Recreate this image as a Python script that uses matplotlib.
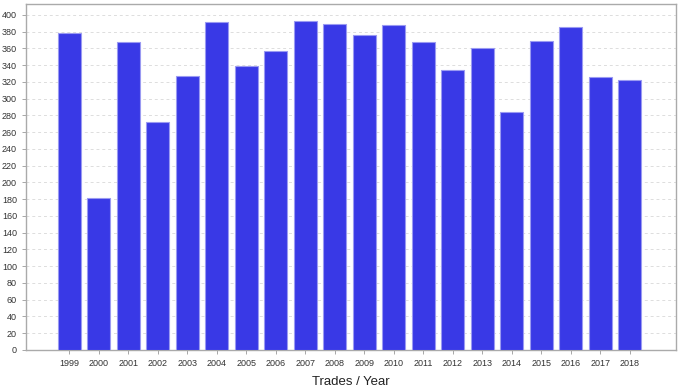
import matplotlib
matplotlib.use("Agg")
import matplotlib.pyplot as plt

plt.rcParams["font.family"] = ["Liberation Sans", "DejaVu Sans"]

YEARS = [str(y) for y in range(1999, 2019)]
TRADES = [378, 181, 368, 272, 327, 392, 339, 357, 393, 389,
          376, 388, 368, 334, 361, 284, 369, 385, 326, 322]

fig = plt.figure(figsize=(6.82, 3.9), dpi=100)
ax = fig.add_axes([0.0381, 0.1026, 0.9531, 0.8871])

x = list(range(len(YEARS)))
ax.bar(x, TRADES, width=0.78, color="#3939e6", edgecolor="#9a9af2",
       linewidth=0.8, zorder=3)

ax.set_xlim(-1.46, 20.56)
ax.set_ylim(0, 413)
ax.set_yticks(range(0, 401, 20))
ax.set_xticks(x)
ax.set_xticklabels(YEARS)
ax.tick_params(labelsize=6.5, length=3, width=0.6, colors="#999999",
               labelcolor="#333333")

ax.grid(axis="y", color="#dddddd", linestyle=(0, (3, 3)), linewidth=0.7, zorder=0)
for s in ax.spines.values():
    s.set_color("#aaaaaa")
    s.set_linewidth(1.0)

ax.set_xlabel("Trades / Year", fontsize=9.5, color="#222222", labelpad=5.5)

fig.savefig("out.png", dpi=100)
